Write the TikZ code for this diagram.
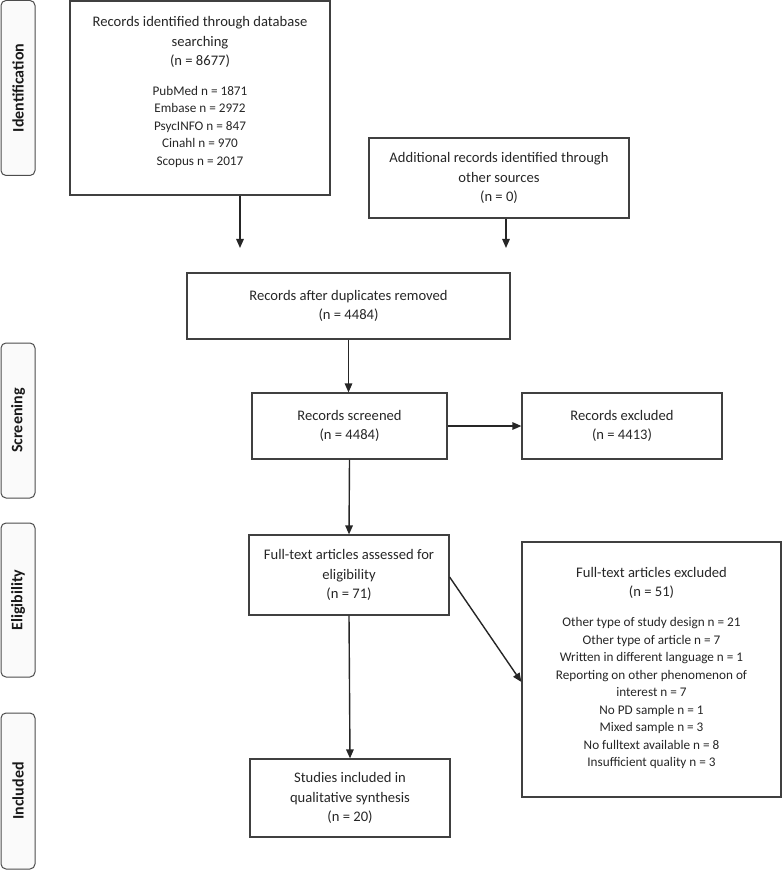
\documentclass[tikz,border=0pt]{standalone}
\usepackage{fontspec}
\setmainfont{Carlito}
\usetikzlibrary{arrows.meta}

\newcommand{\listsize}{\fontsize{13.2}{17.5}\selectfont}
\newcommand{\itemlist}[1]{\listsize\begin{tabular}[t]{@{}c@{}}#1\end{tabular}}

\tikzset{
	box/.style = {draw = black!75, line width = 1.2pt, align = center, text = black!85,
		font = \fontsize{14.6}{19.7}\selectfont, inner sep = 0pt},
	phase/.style = {draw = black!70, line width = 1pt, fill = black!2, rounded corners = 5pt,
		rotate = 90, minimum height = 34pt, text = black!90,
		font = \bfseries\fontsize{16}{18}\selectfont},
	arr/.style = {-{Triangle[length=9pt,width=7.5pt]}, line width = 1.4pt, black!85},
}

\begin{document}
\begin{tikzpicture}[x = 1pt, y = -1pt]
	\useasboundingbox (0,0) rectangle (782,874);
	% phases
	\node [phase, minimum width = 175pt] (identification) at (18,88) {Identification};
	\node [phase, minimum width = 155pt] (screening) at (18,420.5) {Screening};
	\node [phase, minimum width = 154pt] (eligibility) at (18,600) {Eligibility};
	\node [phase, minimum width = 156pt] (included) at (18,791) {Included};
	% boxes
	\node [box, minimum width = 260pt, minimum height = 194pt] (database) at (200,98)
		{Records identified through database\\ searching\\ (n = 8677)\\[10pt]
		\itemlist{PubMed n = 1871\\ Embase n = 2972\\ PsycINFO n = 847\\ Cinahl n = 970\\ Scopus n = 2017}\\[8pt]};
	\node [box, minimum width = 260pt, minimum height = 80pt] (other) at (499,178)
		{Additional records identified through\\ other sources\\ (n = 0)};
	\node [box, minimum width = 323pt, minimum height = 66pt] (duplicates) at (348.5,306)
		{Records after duplicates removed\\ (n = 4484)};
	\node [box, minimum width = 195pt, minimum height = 66pt] (screened) at (349.5,426)
		{Records screened\\ (n = 4484)};
	\node [box, minimum width = 200pt, minimum height = 66pt] (excluded) at (622,426)
		{Records excluded\\ (n = 4413)};
	\node [box, minimum width = 200pt, minimum height = 80pt] (fulltext) at (349,575)
		{Full-text articles assessed for\\ eligibility\\ (n = 71)};
	\node [box, minimum width = 200pt, minimum height = 78pt] (studies) at (350,798)
		{Studies included in\\ qualitative synthesis\\ (n = 20)};
	\node [box, minimum width = 259pt, minimum height = 255pt] (ftexcluded) at (651.5,669.5)
		{Full-text articles excluded\\ (n = 51)\\[10pt]
		\itemlist{Other type of study design n = 21\\ Other type of article n = 7\\
		Written in different language n = 1\\ Reporting on other phenomenon of\\ interest n = 7\\
		No PD sample n = 1\\ Mixed sample n = 3\\ No fulltext available n = 8\\ Insufficient quality n = 3}};
	% arrows
	\coordinate (m1) at (240,248);
	\coordinate (m2) at (506,248);
	\draw [arr] (database.south -| m1) -- (m1);
	\draw [arr] (other.south -| m2) -- (m2);
	\draw [arr] (duplicates.south) -- (duplicates.south |- screened.north);
	\draw [arr] (screened.east) -- (excluded.west);
	\draw [arr] (screened.south) -- (fulltext.north);
	\draw [arr] (fulltext.south) -- (studies.north);
	\draw [arr] ([yshift=-2pt]fulltext.east) -- ([yshift=-12.5pt]ftexcluded.west);
\end{tikzpicture}
\end{document}
